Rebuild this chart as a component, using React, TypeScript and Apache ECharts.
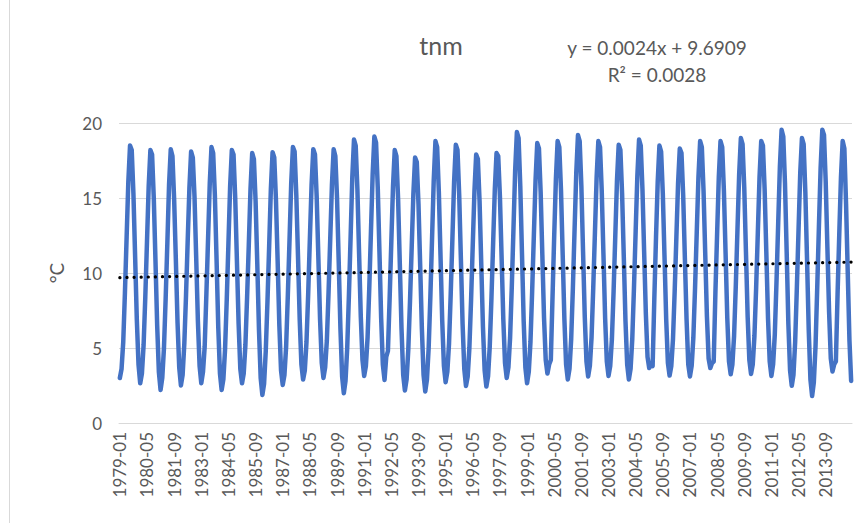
import React, { useEffect, useRef } from "react";
import * as echarts from "echarts";

// Monthly tnm values (°C), one array per year, Jan..Dec
const y1979 = [3.0, 3.6, 5.4, 8.7, 12.4, 16.1, 18.5, 18.2, 15.3, 11.1, 6.9, 3.9];
const y1980 = [2.65, 3.3, 5.2, 8.4, 12.1, 15.8, 18.2, 17.9, 15.0, 10.8, 6.5, 3.4];
const y1981 = [2.2, 3.0, 5.0, 8.3, 12.0, 15.9, 18.25, 17.8, 14.9, 10.9, 6.7, 3.7];
const y1982 = [2.5, 3.2, 5.3, 8.5, 12.2, 15.7, 18.1, 17.7, 15.1, 11.0, 6.8, 3.8];
const y1983 = [2.65, 3.4, 5.1, 8.6, 12.3, 16.0, 18.4, 18.0, 15.2, 10.9, 6.4, 3.3];
const y1984 = [2.2, 2.9, 4.9, 8.2, 12.0, 15.8, 18.2, 17.9, 15.0, 10.8, 6.6, 3.6];
const y1985 = [2.65, 3.3, 5.2, 8.4, 11.9, 15.6, 18.0, 17.6, 14.8, 10.6, 6.2, 3.0];
const y1986 = [1.87, 2.6, 4.8, 8.1, 11.8, 15.6, 18.05, 17.7, 14.9, 10.8, 6.5, 3.5];
const y1987 = [2.54, 3.2, 5.1, 8.5, 12.2, 16.0, 18.4, 18.1, 15.2, 11.1, 6.9, 3.9];
const y1988 = [2.9, 3.5, 5.4, 8.6, 12.3, 15.9, 18.25, 17.9, 15.1, 11.0, 6.9, 4.0];
const y1989 = [3.0, 3.7, 5.5, 8.7, 12.3, 15.9, 18.25, 17.8, 15.0, 10.7, 6.3, 3.1];
const y1990 = [1.98, 2.8, 5.0, 8.5, 12.4, 16.4, 18.9, 18.5, 15.6, 11.3, 7.1, 4.2];
const y1991 = [3.14, 3.8, 5.7, 9.0, 12.8, 16.6, 19.1, 18.7, 15.7, 11.4, 7.0, 3.9];
const y1992 = [2.87, 4.4, 4.8, 8.3, 12.1, 15.8, 18.2, 17.8, 14.9, 10.6, 6.3, 3.2];
const y1993 = [2.17, 2.9, 4.9, 8.1, 11.7, 15.3, 17.7, 17.4, 14.6, 10.5, 6.3, 3.2];
const y1994 = [2.1, 2.9, 5.0, 8.4, 12.3, 16.2, 18.8, 18.4, 15.4, 11.1, 6.8, 3.8];
const y1995 = [2.72, 3.4, 5.3, 8.6, 12.3, 16.1, 18.55, 18.2, 15.2, 10.9, 6.6, 3.6];
const y1996 = [2.47, 3.1, 5.0, 8.2, 11.9, 15.5, 17.9, 17.6, 14.8, 10.6, 6.4, 3.5];
const y1997 = [2.43, 3.1, 5.1, 8.3, 12.0, 15.6, 18.0, 17.8, 15.1, 11.0, 6.9, 4.0];
const y1998 = [3.0, 3.7, 5.7, 9.1, 13.0, 16.9, 19.4, 19.0, 15.8, 11.3, 6.8, 3.7];
const y1999 = [2.65, 3.4, 5.4, 8.8, 12.5, 16.2, 18.66, 18.3, 15.4, 11.2, 7.0, 4.2];
const y2000 = [3.3, 3.9, 4.2, 8.4, 12.5, 16.3, 18.8, 18.4, 15.5, 11.2, 6.9, 3.9];
const y2001 = [2.9, 3.6, 5.6, 9.0, 12.9, 16.7, 19.2, 18.8, 15.8, 11.4, 7.1, 4.1];
const y2002 = [3.1, 3.8, 5.7, 9.0, 12.7, 16.4, 18.8, 18.4, 15.5, 11.3, 7.0, 4.1];
const y2003 = [3.14, 3.8, 5.6, 8.8, 12.5, 16.2, 18.55, 18.2, 15.3, 11.1, 6.8, 3.9];
const y2004 = [2.9, 3.6, 5.6, 9.0, 12.8, 16.5, 18.9, 18.5, 15.6, 11.4, 7.3, 4.4];
const y2005 = [3.66, 3.9, 3.8, 8.3, 12.4, 16.1, 18.5, 18.1, 15.3, 11.1, 6.9, 4.0];
const y2006 = [3.16, 3.8, 5.6, 8.8, 12.4, 16.0, 18.3, 18.0, 15.2, 11.0, 6.9, 3.9];
const y2007 = [3.1, 3.8, 5.7, 9.0, 12.7, 16.4, 18.8, 18.4, 15.5, 11.3, 7.1, 4.3];
const y2008 = [3.66, 4.0, 4.1, 8.7, 12.6, 16.4, 18.8, 18.4, 15.5, 11.3, 7.0, 4.1];
const y2009 = [3.25, 3.9, 5.8, 9.1, 12.9, 16.6, 19.0, 18.6, 15.7, 11.4, 7.1, 4.2];
const y2010 = [3.27, 3.9, 5.8, 9.0, 12.7, 16.4, 18.8, 18.5, 15.6, 11.4, 7.0, 4.1];
const y2011 = [3.14, 3.9, 5.9, 9.4, 13.3, 17.1, 19.55, 19.1, 16.0, 11.4, 6.6, 3.5];
const y2012 = [2.48, 3.2, 5.4, 9.0, 12.9, 16.7, 19.0, 18.6, 15.4, 10.9, 6.2, 2.9];
const y2013 = [1.8, 2.7, 5.1, 9.0, 13.1, 17.0, 19.55, 19.2, 16.1, 11.7, 7.4, 4.3];
const y2014 = [3.43, 3.9, 4.1, 8.6, 12.6, 16.4, 18.8, 18.3, 14.6, 10.0, 5.5, 2.8];

const yearArrays = [
  y1979, y1980, y1981, y1982, y1983, y1984, y1985, y1986, y1987, y1988, y1989, y1990,
  y1991, y1992, y1993, y1994, y1995, y1996, y1997, y1998, y1999, y2000, y2001, y2002,
  y2003, y2004, y2005, y2006, y2007, y2008, y2009, y2010, y2011, y2012, y2013, y2014,
];
const firstYear = 1979;
const monthCodes = ["01", "02", "03", "04", "05", "06", "07", "08", "09", "10", "11", "12"];

// Linear trend as printed on the chart
const trendSlope = 0.0024;
const trendIntercept = 9.6909;
const trendEquation = "y = 0.0024x + 9.6909";
const trendR2 = "R² = 0.0028";

const yTicks = [0, 5, 10, 15, 20];
const titleText = "tnm";
const yAxisName = "°C";

const FONT = "Lato, 'Open Sans', sans-serif";
const TEXT = "#595959";
const GRID = "#d9d9d9";

export default function App() {
  const ref = useRef<HTMLDivElement>(null);
  useEffect(() => {
    if (!ref.current) return;
    const chart = echarts.init(ref.current, null, { renderer: "svg" });

    const categories: string[] = [];
    const values: number[] = [];
    yearArrays.forEach((arr, yi) => {
      arr.forEach((v, mi) => {
        categories.push(`${firstYear + yi}-${monthCodes[mi]}`);
        values.push(v);
      });
    });
    const n = values.length;
    const trendData: (number | null)[] = values.map(() => null);
    trendData[0] = +(trendSlope * 1 + trendIntercept).toFixed(4);
    trendData[n - 1] = +(trendSlope * n + trendIntercept).toFixed(4);

    chart.setOption({
      animation: false,
      backgroundColor: "#ffffff",
      grid: { left: 119, right: 15, top: 123, bottom: 100 },
      xAxis: {
        type: "category",
        data: categories,
        boundaryGap: true,
        axisLine: { show: true, lineStyle: { color: GRID, width: 1 } },
        axisTick: { show: false },
        axisLabel: {
          interval: 15,
          rotate: 90,
          margin: 9,
          color: TEXT,
          fontFamily: FONT,
          fontSize: 17,
        },
        splitLine: { show: false },
      },
      yAxis: {
        type: "value",
        min: yTicks[0],
        max: yTicks[yTicks.length - 1],
        interval: 5,
        name: yAxisName,
        nameLocation: "middle",
        nameGap: 53,
        nameRotate: 90,
        nameTextStyle: { color: TEXT, fontFamily: FONT, fontSize: 19 },
        axisLine: { show: false },
        axisTick: { show: false },
        axisLabel: { color: TEXT, fontFamily: FONT, fontSize: 17, margin: 17 },
        splitLine: { show: true, lineStyle: { color: GRID, width: 1 } },
      },
      series: [
        {
          type: "line",
          data: values,
          symbol: "none",
          lineStyle: { color: "#4472C4", width: 4.5, join: "round", cap: "round" },
          z: 2,
        },
        {
          type: "line",
          data: trendData,
          connectNulls: true,
          symbol: "none",
          lineStyle: { color: "#000000", width: 3.2, type: [0.1, 7], cap: "round" },
          z: 3,
        },
      ],
      graphic: [
        {
          type: "line",
          shape: { x1: 9.5, y1: 0, x2: 9.5, y2: 523 },
          style: { stroke: GRID, lineWidth: 1 },
        },
        {
          type: "text",
          x: 441,
          y: 45,
          style: {
            text: titleText,
            fill: TEXT,
            font: `25px ${FONT}`,
            textAlign: "center",
            textVerticalAlign: "middle",
          },
        },
        {
          type: "text",
          x: 657,
          y: 47,
          style: {
            text: trendEquation,
            fill: TEXT,
            font: `19px ${FONT}`,
            textAlign: "center",
            textVerticalAlign: "middle",
          },
        },
        {
          type: "text",
          x: 657,
          y: 74,
          style: {
            text: trendR2,
            fill: TEXT,
            font: `19px ${FONT}`,
            textAlign: "center",
            textVerticalAlign: "middle",
          },
        },
      ],
    });
    return () => chart.dispose();
  }, []);
  return (
    <div
      ref={ref}
      style={{ position: "absolute", left: 0, top: 0, width: 867, height: 523 }}
    />
  );
}
